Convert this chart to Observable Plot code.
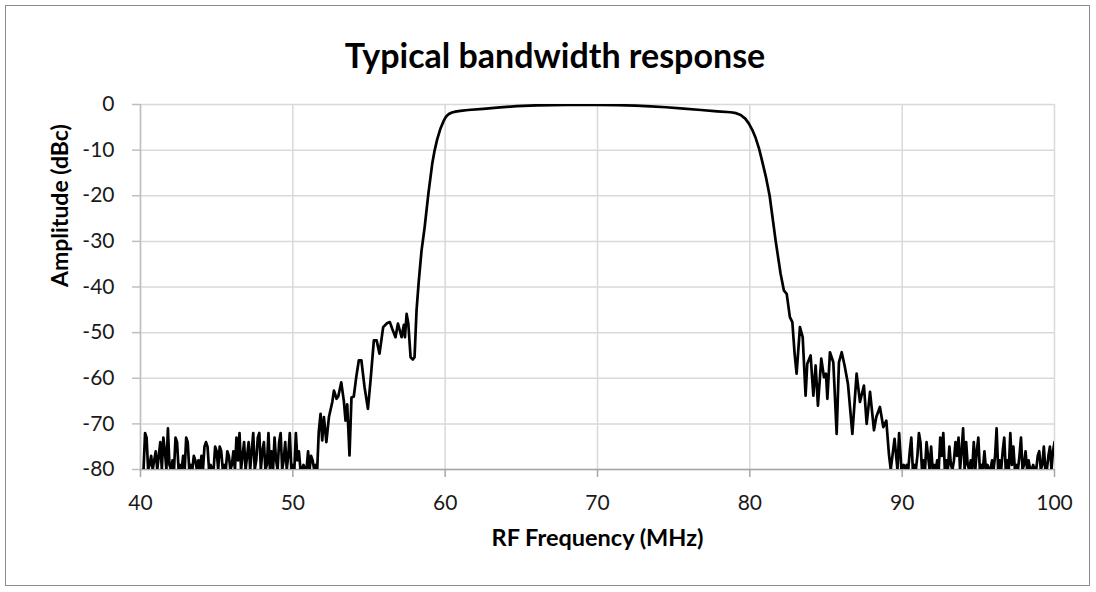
<!DOCTYPE html>
<html><head><meta charset="utf-8">
<script src="https://cdn.jsdelivr.net/npm/d3@7"></script>
<script src="https://cdn.jsdelivr.net/npm/@observablehq/plot@0.6"></script>
<style>
body{margin:0;background:#fff;}
#frame{position:absolute;left:5px;top:5px;width:1085px;height:581px;border:1px solid #8c8c8c;box-sizing:border-box;}
#title{position:absolute;left:0;top:36px;width:1110px;text-align:center;font:bold 34px Lato, sans-serif;line-height:38px;color:#000;}
#chart{position:absolute;left:0;top:85px;}
</style></head>
<body>
<div id="frame"></div>
<div id="title">Typical bandwidth response</div>
<div id="chart"></div>
<script>
// Tick values
const xTicks = [40, 50, 60, 70, 80, 90, 100];
const yTicks = [0, -10, -20, -30, -40, -50, -60, -70, -80];

// Low-side noise floor: sampled from 40.2 MHz every 0.1 MHz
const noiseLowStart = 40.2, noiseLowStep = 0.1;
const noiseLowAmp = [
 -80,-72,-73,-80,-79,-77,-80,-78,-76,-80,
 -77,-74,-80,-73,-76,-80,-71,-79,-80,-78,
 -80,-73,-74,-80,-79,-80,-77,-80,-73,-74,
 -80,-79,-80,-77,-78,-80,-78,-80,-77,-80,
 -75,-74,-75,-80,-79,-80,-80,-75,-76,-80,
 -75,-76,-80,-79,-80,-76,-77,-80,-79,-76,
 -80,-73,-78,-72,-80,-77,-74,-80,-77,-74,
 -80,-76,-72,-80,-78,-73,-72,-80,-76,-74,
 -80,-79,-72,-80,-76,-80,-73,-78,-80,-74,
 -72,-80,-78,-74,-80,-77,-72,-80,-79,-80,
 -72,-78,-76,-80,-80,-79,-80,-80,-76,-80,
 -77,-78,-80,-79
];

// Lower skirt, passband and upper skirt (MHz, dBc)
const skirtFreq = [
 51.6,51.7,51.82,51.93,52.04,52.2,52.37,52.59,52.7,52.87,
 52.98,53.18,53.35,53.46,53.57,53.72,53.85,54.0,54.16,54.33,
 54.5,54.71,54.93,55.1,55.32,55.5,55.69,55.93,56.2,56.37,
 56.53,56.74,56.9,57.14,57.29,57.36,57.47,57.58,57.73,57.88,
 57.99,58.12,58.27,58.45,58.65,58.9,59.15,59.3,59.48,59.7,
 59.9,60.05,60.24,60.45,60.68,61.0,61.5,62.5,63.6,64.7,
 66.0,68.0,70.0,71.3,72.5,73.5,74.5,75.66,76.8,77.86,
 78.74,79.1,79.4,79.7,79.94,80.15,80.38,80.6,80.8,81.05,
 81.3,81.7,82.02,82.24,82.42,82.63,82.79,82.94,83.07,83.29,
 83.47,83.66,83.77,83.99,84.17,84.32,84.47,84.69,84.87,85.0,
 85.09,85.26,85.48,85.7,85.85,86.03,86.22,86.44,86.73,87.01,
 87.23,87.49,87.67,87.89,88.15,88.3,88.54,88.76,88.96,89.13,
 89.25,89.5,89.69,89.8,89.95,90.1
];
const skirtAmp = [
 -80,-71.8,-67.8,-73.6,-68.5,-74,-68.5,-65.2,-62.7,-64.5,
 -64,-60.9,-65,-69.3,-65.7,-76.9,-64.2,-64,-59.8,-56.1,
 -56.1,-62,-66.7,-60.5,-51.7,-51.7,-54.6,-48.8,-47.9,-47.7,
 -49.2,-51,-48,-51,-48.3,-51,-45.9,-48,-55.4,-55.9,
 -55.4,-45.2,-38.6,-32,-27,-19.5,-13,-10.2,-7.6,-5.2,
 -3.6,-2.7,-2.1,-1.75,-1.55,-1.4,-1.2,-0.95,-0.65,-0.35,
 -0.18,-0.1,-0.1,-0.15,-0.25,-0.4,-0.6,-0.9,-1.2,-1.5,
 -1.7,-1.9,-2.3,-3.1,-4.2,-5.5,-7.3,-9.6,-12.3,-15.8,
 -20,-30,-37.1,-40.8,-41.5,-46.6,-47.7,-54.6,-59,-48.8,
 -51,-63.8,-56.8,-55,-63.8,-57.2,-66,-55.7,-59.8,-59,
 -64.5,-54.3,-56.5,-72.2,-56.5,-54.3,-57.2,-61.2,-72.2,-59,
 -65.2,-61.6,-70,-63,-71.4,-68.5,-66.3,-70.7,-69.3,-76.6,
 -80,-73.3,-80,-72,-80,-79
];

// High-side noise floor: sampled from 90.2 MHz every 0.1 MHz
const noiseHighStart = 90.2, noiseHighStep = 0.1;
const noiseHighAmp = [
 -80,-79,-80,-76,-73,-80,-79,-80,-77,-72,
 -74,-80,-78,-80,-74,-77,-80,-75,-80,-79,
 -80,-78,-80,-73,-77,-72,-80,-78,-80,-75,
 -79,-80,-78,-74,-77,-73,-80,-76,-71,-80,
 -74,-79,-80,-78,-80,-74,-80,-76,-73,-80,
 -79,-80,-76,-80,-79,-80,-80,-78,-80,-77,
 -71,-80,-78,-80,-76,-73,-80,-78,-80,-72,
 -79,-75,-80,-79,-80,-77,-73,-80,-79,-76,
 -80,-78,-80,-80,-79,-80,-80,-77,-76,-80,
 -79,-75,-80,-80,-77,-75,-80,-76,-74
];

const data = [
 ...noiseLowAmp.map((a, i) => ({f: +(noiseLowStart + i * noiseLowStep).toFixed(2), a})),
 ...skirtAmp.map((a, i) => ({f: skirtFreq[i], a})),
 ...noiseHighAmp.map((a, i) => ({f: +(noiseHighStart + i * noiseHighStep).toFixed(2), a}))
];

const fmt = d => String(d);
const chart = Plot.plot({
  width: 1096, height: 507,
  marginLeft: 140, marginRight: 42, marginTop: 19, marginBottom: 123,
  style: {fontFamily: "Lato, sans-serif", fontSize: "21px", color: "#1a1a1a", background: "transparent"},
  x: {domain: [40, 100]},
  y: {domain: [-80, 0]},
  marks: [
    Plot.gridX(xTicks, {stroke: "#d9d9d9", strokeOpacity: 1, strokeWidth: 1.5}),
    Plot.gridY(yTicks, {stroke: "#d9d9d9", strokeOpacity: 1, strokeWidth: 1.5}),
    Plot.ruleX([40], {stroke: "#bfbfbf", strokeWidth: 1.5}),
    Plot.ruleY([-80], {stroke: "#a6a6a6", strokeWidth: 1.5}),
    Plot.axisX({ticks: xTicks, tickSize: 8, tickPadding: 18, tickFormat: fmt, stroke: "#a6a6a6", strokeWidth: 1.5, label: null, fill: "#1a1a1a"}),
    Plot.axisY({ticks: yTicks, tickSize: 8, tickPadding: 18, tickFormat: fmt, stroke: "#bfbfbf", strokeWidth: 1.5, label: null, fill: "#1a1a1a"}),
    Plot.line(data, {x: "f", y: "a", stroke: "#000", strokeWidth: 2.7, strokeLinejoin: "round", curve: "linear", clip: true}),
    Plot.text(["RF Frequency (MHz)"], {frameAnchor: "bottom", dy: 76, fontWeight: "bold", fontSize: 23.5, fill: "#000"}),
    Plot.text(["Amplitude (dBc)"], {frameAnchor: "left", dx: -80, rotate: -90, fontWeight: "bold", fontSize: 23, fill: "#000"})
  ]
});
document.getElementById("chart").appendChild(chart);
</script>
</body></html>
